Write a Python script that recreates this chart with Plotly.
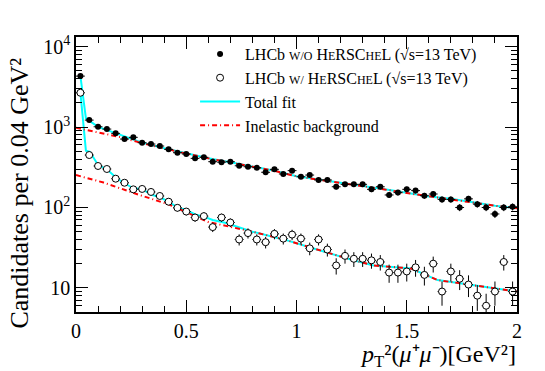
import numpy as np
import plotly.graph_objects as go

# bin centres (0.04 GeV^2 bins from 0 to 2)
bin_width = 0.04
pt2 = np.arange(50) * bin_width + bin_width / 2

# candidates per bin
wo_herschel = [4300, 1220, 1008, 944, 835, 709, 745, 638, 615, 581,
               528, 480, 462, 408, 421, 371, 366, 371, 330, 321,
               312, 274, 298, 261, 287, 241, 253, 220, 220, 181,
               194, 194, 194, 168, 181, 143, 153, 168, 162, 140,
               147, 126, 126, 100, 128, 110, 100, 83, 100, 102]
w_herschel = [2670, 449, 328, 301, 228, 203, 168, 170, 156, 139,
              118, 99, 89, 75, 78, 57, 75, 65, 40, 48,
              40, 37, 47, 41, 46, 41, 31, 40, 30, 19,
              25, 23, 23, 22, 21, 15.5, 15.5, 16, 18, 14.5,
              20, 9, 16, 13, 11, 8, 6, 9, 21, 9]

# fit curves (nodes)
fit_wo_x = [0.02, 0.045, 0.1, 0.2, 0.3, 0.4, 0.5, 0.6, 0.7, 0.8, 0.9,
            1.0, 1.1, 1.2, 1.3, 1.4, 1.5, 1.6, 1.7, 1.8, 1.9, 2.0]
fit_wo = [4300, 1280, 1005, 795, 640, 545, 471, 410, 364, 322, 287,
          245, 224, 205, 186, 168, 152, 137, 128, 115, 105, 98]
bkg_wo_x = [0.0, 0.1, 0.2, 0.3, 0.4, 0.5, 0.6, 0.7, 0.8, 0.9, 1.0,
            1.1, 1.2, 1.3, 1.4, 1.5, 1.6, 1.7, 1.8, 1.9, 2.0]
bkg_wo = [980, 865, 750, 630, 540, 468, 408, 362, 320, 285, 244,
          223, 203, 186, 167, 151, 137, 127, 115, 105, 98]

fit_w_x = [0.02, 0.045, 0.063, 0.1, 0.14, 0.185, 0.22, 0.26, 0.3, 0.34,
           0.38, 0.42, 0.46, 0.5, 0.54, 0.58, 0.62, 0.68, 0.8, 0.95,
           1.1, 1.25, 1.35, 1.48, 1.52, 1.64, 1.79, 2.0]
fit_w = [2670, 508, 493, 337, 298, 231, 200, 173, 170, 145,
         134, 118, 100, 93, 82, 77, 70, 64, 50, 39.5,
         29.6, 22.3, 19, 17.6, 17.4, 12.5, 10.9, 9.0]
bkg_w_x = [0.0, 0.125, 0.275, 0.425, 0.6, 0.8, 0.95, 1.1, 1.25, 1.35,
           1.48, 1.52, 1.64, 1.79, 2.0]
bkg_w = [253, 204, 147, 108, 66, 50, 39.5, 29.6, 22.3, 19,
         17.6, 17.4, 12.5, 10.9, 9.0]

FONT = "Liberation Serif"
SC = "<span style='font-size:12px'>{}</span>"
herschel = "H" + SC.format("E") + "RSC" + SC.format("HE") + "L"
label_wo = "LHCb " + SC.format("W/O") + " " + herschel + " (√s=13 TeV)"
label_w = "LHCb " + SC.format("W/") + " " + herschel + " (√s=13 TeV)"

fig = go.Figure()

# total fits
for xs, ys, show in [(fit_wo_x, fit_wo, True), (fit_w_x, fit_w, False)]:
    fig.add_trace(go.Scatter(
        x=xs, y=ys, mode="lines", name="Total fit", legendrank=3,
        line=dict(color="#00ffff", width=2), showlegend=show,
        legendgroup="fit",
    ))

# inelastic background
for xs, ys, show in [(bkg_wo_x, bkg_wo, True), (bkg_w_x, bkg_w, False)]:
    fig.add_trace(go.Scatter(
        x=xs, y=ys, mode="lines", name="Inelastic background", legendrank=4,
        line=dict(color="#ff0000", width=2, dash="5px,3px,1px,3px"),
        showlegend=show, legendgroup="bkg",
    ))

err_style = dict(type="data", thickness=1, width=0, color="black")

fig.add_trace(go.Scatter(
    x=pt2, y=wo_herschel, mode="markers", name=label_wo, legendrank=1,
    marker=dict(symbol="circle", size=6, color="black"),
    error_y=dict(array=np.sqrt(wo_herschel), **err_style),
    error_x=dict(array=[bin_width / 2] * len(pt2), **err_style),
))
fig.add_trace(go.Scatter(
    x=pt2, y=w_herschel, mode="markers", name=label_w, legendrank=2,
    marker=dict(symbol="circle", size=7, color="white",
                line=dict(color="black", width=1)),
    error_y=dict(array=np.sqrt(w_herschel), **err_style),
    error_x=dict(array=[bin_width / 2] * len(pt2), **err_style),
))

axis_common = dict(
    showline=True, linecolor="black", linewidth=1.5, mirror="ticks",
    ticks="inside", tickcolor="black", tickwidth=1, ticklen=12,
    showgrid=False, zeroline=False, automargin=False,
    tickfont=dict(family=FONT, size=20, color="black"),
)

fig.update_xaxes(
    range=[0, 2], tickvals=[0, 0.5, 1, 1.5, 2],
    ticktext=["0", "0.5", "1", "1.5", "2"],
    minor=dict(ticks="inside", ticklen=6, dtick=0.1, tickcolor="black",
               showgrid=False),
    **axis_common,
)

minor_y = [m * 10 ** e for e in range(0, 5) for m in range(2, 10)]
fig.update_yaxes(
    type="log", range=[0.70, 4.12],
    tickvals=[10, 100, 1000, 10000],
    ticktext=["10", "10<sup>2</sup>", "10<sup>3</sup>", "10<sup>4</sup>"],
    minor=dict(ticks="inside", ticklen=6, tickvals=minor_y,
               tickcolor="black", showgrid=False),
    **axis_common,
)

fig.add_annotation(
    text="Candidates per 0.04 GeV²", textangle=-90,
    xref="paper", yref="paper", x=-0.129, y=0.431,
    xanchor="center", yanchor="middle", showarrow=False,
    font=dict(family=FONT, size=26, color="black"),
)
fig.add_annotation(
    text="<i>p</i><sub>T</sub>²(<i>μ</i>⁺<i>μ</i>⁻)[GeV²]",
    xref="paper", yref="paper", x=1.003, y=-0.16,
    xanchor="right", yanchor="middle", showarrow=False,
    font=dict(family=FONT, size=24, color="black"),
)

# page body adds an 8 px offset, so the figure is 8 px smaller than the window
fig.update_layout(
    width=537, height=363,
    margin=dict(l=68, r=28, t=29, b=59),
    plot_bgcolor="white", paper_bgcolor="white",
    font=dict(family=FONT, color="black"),
    legend=dict(
        x=0.27, y=1.0, xanchor="left", yanchor="top",
        bgcolor="rgba(0,0,0,0)", font=dict(family=FONT, size=16),
        tracegroupgap=0, itemwidth=40,
    ),
)

fig.write_html("out.html")
